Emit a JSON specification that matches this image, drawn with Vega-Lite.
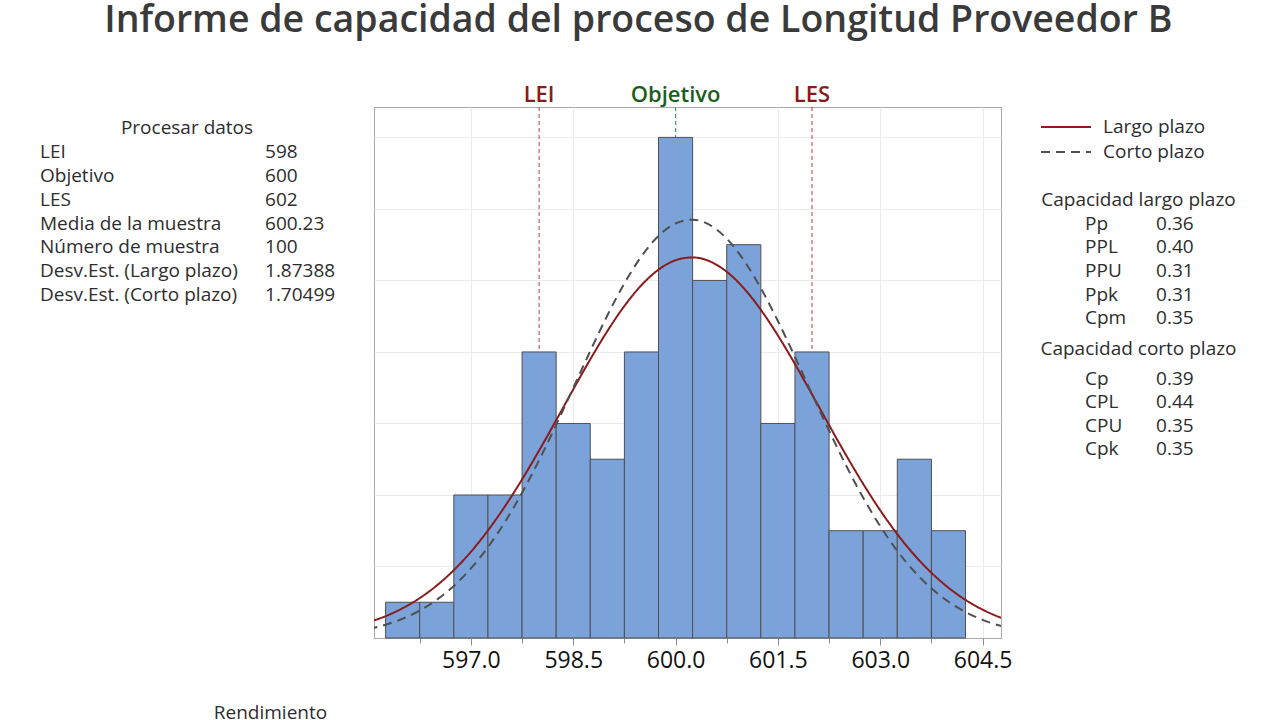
{
  "$schema": "https://vega.github.io/schema/vega-lite/v6.json",
  "background": "white",
  "padding": {"left": 40, "top": 2, "right": 0, "bottom": 0},
  "title": {
    "text": "Informe de capacidad del proceso de Longitud Proveedor B",
    "font": "Open Sans",
    "fontSize": 37.5,
    "fontWeight": 600,
    "color": "#3a3a3a",
    "anchor": "middle",
    "offset": 44
  },
  "datasets": {
    "proceso": [
      {"concepto": "LEI", "valor": "598"},
      {"concepto": "Objetivo", "valor": "600"},
      {"concepto": "LES", "valor": "602"},
      {"concepto": "Media de la muestra", "valor": "600.23"},
      {"concepto": "Número de muestra", "valor": "100"},
      {"concepto": "Desv.Est. (Largo plazo)", "valor": "1.87388"},
      {"concepto": "Desv.Est. (Corto plazo)", "valor": "1.70499"}
    ],
    "capacidad_largo": [
      {"indice": "Pp", "valor": "0.36"},
      {"indice": "PPL", "valor": "0.40"},
      {"indice": "PPU", "valor": "0.31"},
      {"indice": "Ppk", "valor": "0.31"},
      {"indice": "Cpm", "valor": "0.35"}
    ],
    "capacidad_corto": [
      {"indice": "Cp", "valor": "0.39"},
      {"indice": "CPL", "valor": "0.44"},
      {"indice": "CPU", "valor": "0.35"},
      {"indice": "Cpk", "valor": "0.35"}
    ],
    "especificaciones": [
      {"nombre": "LEI", "valor": 598},
      {"nombre": "Objetivo", "valor": 600},
      {"nombre": "LES", "valor": 602}
    ],
    "histograma": [
      {"desde": 595.75, "hasta": 596.25, "frecuencia": 1},
      {"desde": 596.25, "hasta": 596.75, "frecuencia": 1},
      {"desde": 596.75, "hasta": 597.25, "frecuencia": 4},
      {"desde": 597.25, "hasta": 597.75, "frecuencia": 4},
      {"desde": 597.75, "hasta": 598.25, "frecuencia": 8},
      {"desde": 598.25, "hasta": 598.75, "frecuencia": 6},
      {"desde": 598.75, "hasta": 599.25, "frecuencia": 5},
      {"desde": 599.25, "hasta": 599.75, "frecuencia": 8},
      {"desde": 599.75, "hasta": 600.25, "frecuencia": 14},
      {"desde": 600.25, "hasta": 600.75, "frecuencia": 10},
      {"desde": 600.75, "hasta": 601.25, "frecuencia": 11},
      {"desde": 601.25, "hasta": 601.75, "frecuencia": 6},
      {"desde": 601.75, "hasta": 602.25, "frecuencia": 8},
      {"desde": 602.25, "hasta": 602.75, "frecuencia": 3},
      {"desde": 602.75, "hasta": 603.25, "frecuencia": 3},
      {"desde": 603.25, "hasta": 603.75, "frecuencia": 5},
      {"desde": 603.75, "hasta": 604.25, "frecuencia": 3}
    ],
    "curvas": [
      {"curva": "Largo plazo", "longitud": 595.5, "frecuencia": 0.440},
      {"curva": "Largo plazo", "longitud": 595.75, "frecuencia": 0.611},
      {"curva": "Largo plazo", "longitud": 596.0, "frecuencia": 0.833},
      {"curva": "Largo plazo", "longitud": 596.25, "frecuencia": 1.116},
      {"curva": "Largo plazo", "longitud": 596.5, "frecuencia": 1.468},
      {"curva": "Largo plazo", "longitud": 596.75, "frecuencia": 1.898},
      {"curva": "Largo plazo", "longitud": 597.0, "frecuencia": 2.410},
      {"curva": "Largo plazo", "longitud": 597.25, "frecuencia": 3.006},
      {"curva": "Largo plazo", "longitud": 597.5, "frecuencia": 3.684},
      {"curva": "Largo plazo", "longitud": 597.75, "frecuencia": 4.434},
      {"curva": "Largo plazo", "longitud": 598.0, "frecuencia": 5.243},
      {"curva": "Largo plazo", "longitud": 598.25, "frecuencia": 6.091},
      {"curva": "Largo plazo", "longitud": 598.5, "frecuencia": 6.951},
      {"curva": "Largo plazo", "longitud": 598.75, "frecuencia": 7.793},
      {"curva": "Largo plazo", "longitud": 599.0, "frecuencia": 8.582},
      {"curva": "Largo plazo", "longitud": 599.25, "frecuencia": 9.285},
      {"curva": "Largo plazo", "longitud": 599.5, "frecuencia": 9.867},
      {"curva": "Largo plazo", "longitud": 599.75, "frecuencia": 10.301},
      {"curva": "Largo plazo", "longitud": 600.0, "frecuencia": 10.565},
      {"curva": "Largo plazo", "longitud": 600.25, "frecuencia": 10.644},
      {"curva": "Largo plazo", "longitud": 600.5, "frecuencia": 10.535},
      {"curva": "Largo plazo", "longitud": 600.75, "frecuencia": 10.243},
      {"curva": "Largo plazo", "longitud": 601.0, "frecuencia": 9.783},
      {"curva": "Largo plazo", "longitud": 601.25, "frecuencia": 9.179},
      {"curva": "Largo plazo", "longitud": 601.5, "frecuencia": 8.461},
      {"curva": "Largo plazo", "longitud": 601.75, "frecuencia": 7.661},
      {"curva": "Largo plazo", "longitud": 602.0, "frecuencia": 6.814},
      {"curva": "Largo plazo", "longitud": 602.25, "frecuencia": 5.954},
      {"curva": "Largo plazo", "longitud": 602.5, "frecuencia": 5.111},
      {"curva": "Largo plazo", "longitud": 602.75, "frecuencia": 4.310},
      {"curva": "Largo plazo", "longitud": 603.0, "frecuencia": 3.570},
      {"curva": "Largo plazo", "longitud": 603.25, "frecuencia": 2.905},
      {"curva": "Largo plazo", "longitud": 603.5, "frecuencia": 2.322},
      {"curva": "Largo plazo", "longitud": 603.75, "frecuencia": 1.824},
      {"curva": "Largo plazo", "longitud": 604.0, "frecuencia": 1.407},
      {"curva": "Largo plazo", "longitud": 604.25, "frecuencia": 1.066},
      {"curva": "Largo plazo", "longitud": 604.5, "frecuencia": 0.794},
      {"curva": "Largo plazo", "longitud": 604.75, "frecuencia": 0.580},
      {"curva": "Largo plazo", "longitud": 605.0, "frecuencia": 0.417},
      {"curva": "Corto plazo", "longitud": 595.5, "frecuencia": 0.249},
      {"curva": "Corto plazo", "longitud": 595.75, "frecuencia": 0.371},
      {"curva": "Corto plazo", "longitud": 596.0, "frecuencia": 0.539},
      {"curva": "Corto plazo", "longitud": 596.25, "frecuencia": 0.767},
      {"curva": "Corto plazo", "longitud": 596.5, "frecuencia": 1.069},
      {"curva": "Corto plazo", "longitud": 596.75, "frecuencia": 1.457},
      {"curva": "Corto plazo", "longitud": 597.0, "frecuencia": 1.945},
      {"curva": "Corto plazo", "longitud": 597.25, "frecuencia": 2.540},
      {"curva": "Corto plazo", "longitud": 597.5, "frecuencia": 3.247},
      {"curva": "Corto plazo", "longitud": 597.75, "frecuencia": 4.062},
      {"curva": "Corto plazo", "longitud": 598.0, "frecuencia": 4.974},
      {"curva": "Corto plazo", "longitud": 598.25, "frecuencia": 5.961},
      {"curva": "Corto plazo", "longitud": 598.5, "frecuencia": 6.992},
      {"curva": "Corto plazo", "longitud": 598.75, "frecuencia": 8.026},
      {"curva": "Corto plazo", "longitud": 599.0, "frecuencia": 9.019},
      {"curva": "Corto plazo", "longitud": 599.25, "frecuencia": 9.918},
      {"curva": "Corto plazo", "longitud": 599.5, "frecuencia": 10.674},
      {"curva": "Corto plazo", "longitud": 599.75, "frecuencia": 11.244},
      {"curva": "Corto plazo", "longitud": 600.0, "frecuencia": 11.593},
      {"curva": "Corto plazo", "longitud": 600.25, "frecuencia": 11.698},
      {"curva": "Corto plazo", "longitud": 600.5, "frecuencia": 11.553},
      {"curva": "Corto plazo", "longitud": 600.75, "frecuencia": 11.167},
      {"curva": "Corto plazo", "longitud": 601.0, "frecuencia": 10.565},
      {"curva": "Corto plazo", "longitud": 601.25, "frecuencia": 9.782},
      {"curva": "Corto plazo", "longitud": 601.5, "frecuencia": 8.865},
      {"curva": "Corto plazo", "longitud": 601.75, "frecuencia": 7.863},
      {"curva": "Corto plazo", "longitud": 602.0, "frecuencia": 6.825},
      {"curva": "Corto plazo", "longitud": 602.25, "frecuencia": 5.799},
      {"curva": "Corto plazo", "longitud": 602.5, "frecuencia": 4.822},
      {"curva": "Corto plazo", "longitud": 602.75, "frecuencia": 3.925},
      {"curva": "Corto plazo", "longitud": 603.0, "frecuencia": 3.126},
      {"curva": "Corto plazo", "longitud": 603.25, "frecuencia": 2.437},
      {"curva": "Corto plazo", "longitud": 603.5, "frecuencia": 1.860},
      {"curva": "Corto plazo", "longitud": 603.75, "frecuencia": 1.389},
      {"curva": "Corto plazo", "longitud": 604.0, "frecuencia": 1.015},
      {"curva": "Corto plazo", "longitud": 604.25, "frecuencia": 0.726},
      {"curva": "Corto plazo", "longitud": 604.5, "frecuencia": 0.508},
      {"curva": "Corto plazo", "longitud": 604.75, "frecuencia": 0.348},
      {"curva": "Corto plazo", "longitud": 605.0, "frecuencia": 0.234}
    ]
  },
  "spacing": 40,
  "bounds": "flush",
  "hconcat": [
    {
      "width": 294,
      "height": 191,
      "title": {
        "text": "Rendimiento",
        "orient": "bottom",
        "anchor": "end",
        "offset": 414,
        "dx": -8,
        "baseline": "alphabetic",
        "font": "Open Sans",
        "fontSize": 19,
        "fontWeight": "normal",
        "color": "#2d2d2d"
      },
      "layer": [
        {
          "data": {"values": [{"concepto": "Procesar datos"}]},
          "mark": {"type": "text", "align": "center", "baseline": "middle"},
          "encoding": {
            "y": {
              "field": "concepto",
              "type": "nominal",
              "scale": {
                "type": "point",
                "domain": ["Procesar datos", "LEI", "Objetivo", "LES", "Media de la muestra", "Número de muestra", "Desv.Est. (Largo plazo)", "Desv.Est. (Corto plazo)"],
                "padding": 0.5,
                "align": 0.88
              },
              "axis": null
            },
            "text": {"field": "concepto"}
          }
        },
        {
          "data": {"name": "proceso"},
          "mark": {"type": "text", "align": "left", "baseline": "middle"},
          "encoding": {
            "x": {
              "datum": "etiqueta",
              "type": "nominal",
              "scale": {"type": "point", "domain": ["etiqueta", "valor"], "padding": 0.1533, "align": 0},
              "axis": null
            },
            "y": {"field": "concepto", "type": "nominal", "axis": null},
            "text": {"field": "concepto"}
          }
        },
        {
          "data": {"name": "proceso"},
          "mark": {"type": "text", "align": "left", "baseline": "middle"},
          "encoding": {
            "x": {"datum": "valor", "type": "nominal", "axis": null},
            "y": {"field": "concepto", "type": "nominal", "axis": null},
            "text": {"field": "valor"}
          }
        }
      ]
    },
    {
      "width": 627,
      "height": 531,
      "view": {"stroke": "#a9a9a9", "strokeWidth": 1},
      "layer": [
        {
          "data": {"name": "especificaciones"},
          "mark": {"type": "rule", "strokeDash": [4, 3], "strokeWidth": 1},
          "encoding": {
            "x": {
              "field": "valor",
              "type": "quantitative",
              "scale": {"domain": [595.58, 604.77], "nice": false, "zero": false},
              "axis": {
                "title": null,
                "values": [596.25, 597, 597.75, 598.5, 599.25, 600, 600.75, 601.5, 602.25, 603, 603.75, 604.5],
                "labelExpr": "datum.value % 1.5 === 0 ? format(datum.value, '.1f') : ''",
                "labelFont": "Open Sans",
                "labelFontSize": 23,
                "labelColor": "#111111",
                "labelPadding": 4,
                "labelFlush": false,
                "labelOverlap": false,
                "domain": false,
                "tickColor": "#8c8c8c",
                "tickSize": {"condition": {"test": "datum.value % 1.5 === 0", "value": 7}, "value": 5},
                "grid": true,
                "gridColor": "#ebebeb",
                "gridOpacity": {"condition": {"test": "datum.value % 1.5 === 0", "value": 1}, "value": 0}
              }
            },
            "color": {"condition": {"test": "datum.nombre === 'Objetivo'", "value": "#2f9a55"}, "value": "#c03a3c"}
          }
        },
        {
          "data": {"name": "especificaciones"},
          "mark": {"type": "text", "baseline": "alphabetic", "dy": -5, "fontSize": 22, "fontWeight": 600},
          "encoding": {
            "x": {"field": "valor", "type": "quantitative"},
            "y": {"datum": 14.85, "type": "quantitative"},
            "text": {"field": "nombre"},
            "color": {"condition": {"test": "datum.nombre === 'Objetivo'", "value": "#1b5e20"}, "value": "#8b1a1a"}
          }
        },
        {
          "data": {"name": "histograma"},
          "mark": {"type": "rect", "fill": "#7ba3da", "stroke": "#4f4f4f", "strokeWidth": 1},
          "encoding": {
            "x": {"field": "desde", "type": "quantitative"},
            "x2": {"field": "hasta"},
            "y": {
              "field": "frecuencia",
              "type": "quantitative",
              "scale": {"domain": [0, 14.85], "nice": false},
              "axis": {
                "title": null,
                "values": [2, 4, 6, 8, 10, 12, 14],
                "labels": false,
                "ticks": false,
                "domain": false,
                "grid": true,
                "gridColor": "#ebebeb"
              }
            },
            "y2": {"datum": 0}
          }
        },
        {
          "data": {"name": "curvas"},
          "mark": {"type": "line", "clip": true, "strokeWidth": 2, "interpolate": "monotone"},
          "encoding": {
            "x": {"field": "longitud", "type": "quantitative"},
            "y": {"field": "frecuencia", "type": "quantitative"},
            "color": {
              "field": "curva",
              "type": "nominal",
              "scale": {"domain": ["Largo plazo", "Corto plazo"], "range": ["#8b1c1c", "#505050"]},
              "legend": null
            },
            "strokeDash": {
              "field": "curva",
              "type": "nominal",
              "scale": {"domain": ["Largo plazo", "Corto plazo"], "range": [[1, 0], [9, 6]]},
              "legend": null
            }
          }
        }
      ]
    },
    {
      "spacing": 0,
      "bounds": "flush",
      "vconcat": [
        {
          "width": 50,
          "height": 50,
          "data": {"values": [{"curva": "Largo plazo"}, {"curva": "Corto plazo"}]},
          "encoding": {
            "y": {
              "field": "curva",
              "type": "nominal",
              "scale": {"type": "point", "domain": ["Largo plazo", "Corto plazo"], "padding": 0.5, "align": 0.8},
              "axis": null
            }
          },
          "layer": [
            {
              "mark": {"type": "rule", "strokeWidth": 2},
              "encoding": {
                "x": {
                  "datum": "inicio",
                  "type": "nominal",
                  "scale": {"type": "point", "domain": ["inicio", "fin"], "padding": 0},
                  "axis": null
                },
                "x2": {"datum": "fin"},
                "color": {
                  "field": "curva",
                  "type": "nominal",
                  "scale": {"domain": ["Largo plazo", "Corto plazo"], "range": ["#8b1c1c", "#505050"]},
                  "legend": null
                },
                "strokeDash": {
                  "field": "curva",
                  "type": "nominal",
                  "scale": {"domain": ["Largo plazo", "Corto plazo"], "range": [[1, 0], [12, 7]]},
                  "legend": null
                }
              }
            },
            {
              "mark": {"type": "text", "align": "left", "baseline": "middle", "dx": 12},
              "encoding": {
                "x": {"datum": "fin", "type": "nominal", "axis": null},
                "text": {"field": "curva"}
              }
            }
          ]
        },
        {
          "width": 195,
          "height": 165.6,
          "layer": [
            {
              "data": {"values": [{"indice": "Capacidad largo plazo"}]},
              "mark": {"type": "text", "align": "center", "baseline": "middle"},
              "encoding": {
                "y": {
                  "field": "indice",
                  "type": "nominal",
                  "scale": {"type": "point", "domain": ["Capacidad largo plazo", "Pp", "PPL", "PPU", "Ppk", "Cpm"], "padding": 1, "align": 0.909},
                  "axis": null
                },
                "text": {"field": "indice"}
              }
            },
            {
              "data": {"name": "capacidad_largo"},
              "mark": {"type": "text", "align": "left", "baseline": "middle"},
              "encoding": {
                "x": {
                  "datum": "indice",
                  "type": "nominal",
                  "scale": {"type": "point", "domain": ["indice", "valor"], "padding": 0.873, "align": 0.355},
                  "axis": null
                },
                "y": {"field": "indice", "type": "nominal", "axis": null},
                "text": {"field": "indice"}
              }
            },
            {
              "data": {"name": "capacidad_largo"},
              "mark": {"type": "text", "align": "left", "baseline": "middle"},
              "encoding": {
                "x": {"datum": "valor", "type": "nominal", "axis": null},
                "y": {"field": "indice", "type": "nominal", "axis": null},
                "text": {"field": "valor"}
              }
            }
          ]
        },
        {
          "width": 195,
          "height": 141.6,
          "layer": [
            {
              "data": {"values": [{"indice": "Capacidad corto plazo"}]},
              "mark": {"type": "text", "align": "center", "baseline": "middle", "dy": -6},
              "encoding": {
                "y": {
                  "field": "indice",
                  "type": "nominal",
                  "scale": {"type": "point", "domain": ["Capacidad corto plazo", "Cp", "CPL", "CPU", "Cpk"], "padding": 1, "align": 0.676},
                  "axis": null
                },
                "text": {"field": "indice"}
              }
            },
            {
              "data": {"name": "capacidad_corto"},
              "mark": {"type": "text", "align": "left", "baseline": "middle"},
              "encoding": {
                "x": {
                  "datum": "indice",
                  "type": "nominal",
                  "scale": {"type": "point", "domain": ["indice", "valor"], "padding": 0.873, "align": 0.355},
                  "axis": null
                },
                "y": {"field": "indice", "type": "nominal", "axis": null},
                "text": {"field": "indice"}
              }
            },
            {
              "data": {"name": "capacidad_corto"},
              "mark": {"type": "text", "align": "left", "baseline": "middle"},
              "encoding": {
                "x": {"datum": "valor", "type": "nominal", "axis": null},
                "y": {"field": "indice", "type": "nominal", "axis": null},
                "text": {"field": "valor"}
              }
            }
          ]
        }
      ]
    }
  ],
  "config": {
    "font": "Open Sans",
    "view": {"stroke": null},
    "text": {"font": "Open Sans", "fontSize": 19, "color": "#2d2d2d"}
  }
}
